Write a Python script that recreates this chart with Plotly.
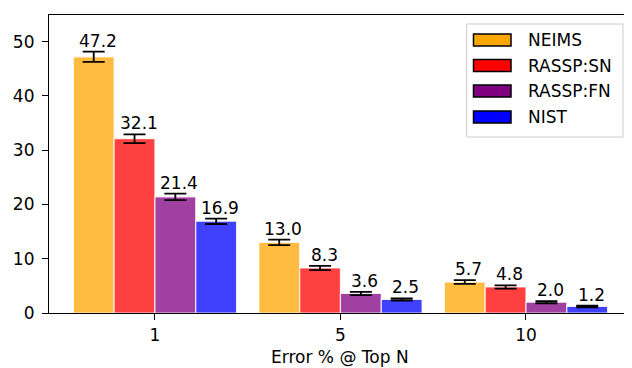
import plotly.graph_objects as go

categories = ["1", "5", "10"]
series_names = ["NEIMS", "RASSP:SN", "RASSP:FN", "NIST"]
neims = [47.2, 13.0, 5.7]
rassp_sn = [32.1, 8.3, 4.8]
rassp_fn = [21.4, 3.6, 2.0]
nist = [16.9, 2.5, 1.2]
neims_err = [0.95, 0.5, 0.35]
rassp_sn_err = [0.8, 0.4, 0.3]
rassp_fn_err = [0.6, 0.3, 0.2]
nist_err = [0.5, 0.2, 0.15]
y_ticks = [0, 10, 20, 30, 40, 50]
x_title = "Error % @ Top N"

values = [neims, rassp_sn, rassp_fn, nist]
errors = [neims_err, rassp_sn_err, rassp_fn_err, nist_err]
fills = ["rgba(255,165,0,0.75)", "rgba(255,0,0,0.75)", "rgba(128,0,128,0.75)", "rgba(0,0,255,0.75)"]
solid = ["#FFA500", "#FF0000", "#800080", "#0000FF"]

FONT = "DejaVu Sans"
FS = 17
PAGE_OFF = 8  # default body margin of the html page
W, H = 632 - PAGE_OFF, 368 - PAGE_OFF
# plot box in screenshot pixels: x 49..631, y 15..313
L, R, T, B = 49 - PAGE_OFF, 1, 15 - PAGE_OFF, 55
pw, ph = W - L - R, H - T - B

xpos = list(range(len(categories)))
bw = 0.22
fig = go.Figure()
annotations = []
shapes = []
for i, (name, vals, errs) in enumerate(zip(series_names, values, errors)):
    off = -0.44 + bw * i
    fig.add_trace(go.Bar(
        x=xpos, y=vals, name=name, width=bw, offset=off,
        marker=dict(color=fills[i], line=dict(color="rgba(255,255,255,0.8)", width=1.2)),
        error_y=dict(type="data", array=errs, visible=True, color="black", thickness=1.8, width=11),
        showlegend=False,
    ))
    for x, v, e in zip(xpos, vals, errs):
        annotations.append(dict(
            x=x + off + bw / 2, y=v + e, xref="x", yref="y", text=f"{v:.1f}",
            showarrow=False, yanchor="bottom", xanchor="center", xshift=4, yshift=-1,
            font=dict(family=FONT, size=FS, color="black"),
        ))

def px2paper(px, py):
    # screenshot pixel -> paper coords
    fx, fy = px - PAGE_OFF, py - PAGE_OFF
    return (fx - L) / pw, (H - B - fy) / ph

# x-axis title
tx, ty = px2paper(340, 357)
annotations.append(dict(x=tx, y=ty, xref="paper", yref="paper", text=x_title, showarrow=False,
                        xanchor="center", yanchor="middle", font=dict(family=FONT, size=FS, color="black")))

# custom legend
x0, y0 = px2paper(466.7, 24)
x1, y1 = px2paper(623, 137)
shapes.append(dict(type="rect", xref="paper", yref="paper", x0=x0, y0=y1, x1=x1, y1=y0,
                   line=dict(color="#cccccc", width=1), fillcolor="rgba(255,255,255,0.8)", layer="above"))
row_y = [40, 65.5, 91, 117]
for i, name in enumerate(series_names):
    sx0, sy0 = px2paper(473.5, row_y[i] - 6)
    sx1, sy1 = px2paper(511, row_y[i] + 6)
    shapes.append(dict(type="rect", xref="paper", yref="paper", x0=sx0, y0=sy1, x1=sx1, y1=sy0,
                       line=dict(color="black", width=1.5), fillcolor=solid[i], layer="above"))
    lx, ly = px2paper(526, row_y[i])
    annotations.append(dict(x=lx, y=ly, xref="paper", yref="paper", text=name, showarrow=False,
                            xanchor="left", yanchor="middle",
                            font=dict(family=FONT, size=FS, color="black")))

fig.update_layout(
    width=W, height=H,
    margin=dict(l=L, r=R, t=T, b=B),
    plot_bgcolor="white", paper_bgcolor="white",
    barmode="overlay",
    font=dict(family=FONT, size=FS, color="black"),
    annotations=annotations, shapes=shapes,
    xaxis=dict(
        range=[-0.571, 2.566], tickmode="array", tickvals=xpos, ticktext=categories,
        showline=True, linecolor="black", linewidth=1.2, mirror=True,
        ticks="outside", ticklen=6, tickcolor="black", tickwidth=1.2,
        showgrid=False, zeroline=False, automargin=False,
    ),
    yaxis=dict(
        range=[0, 54.9], tickmode="array", tickvals=y_ticks,
        showline=True, linecolor="black", linewidth=1.2, mirror=True,
        ticks="outside", ticklen=6, tickcolor="black", tickwidth=1.2,
        showgrid=False, zeroline=False, automargin=False, ticklabelstandoff=4,
    ),
)

fig.write_html("out.html")
